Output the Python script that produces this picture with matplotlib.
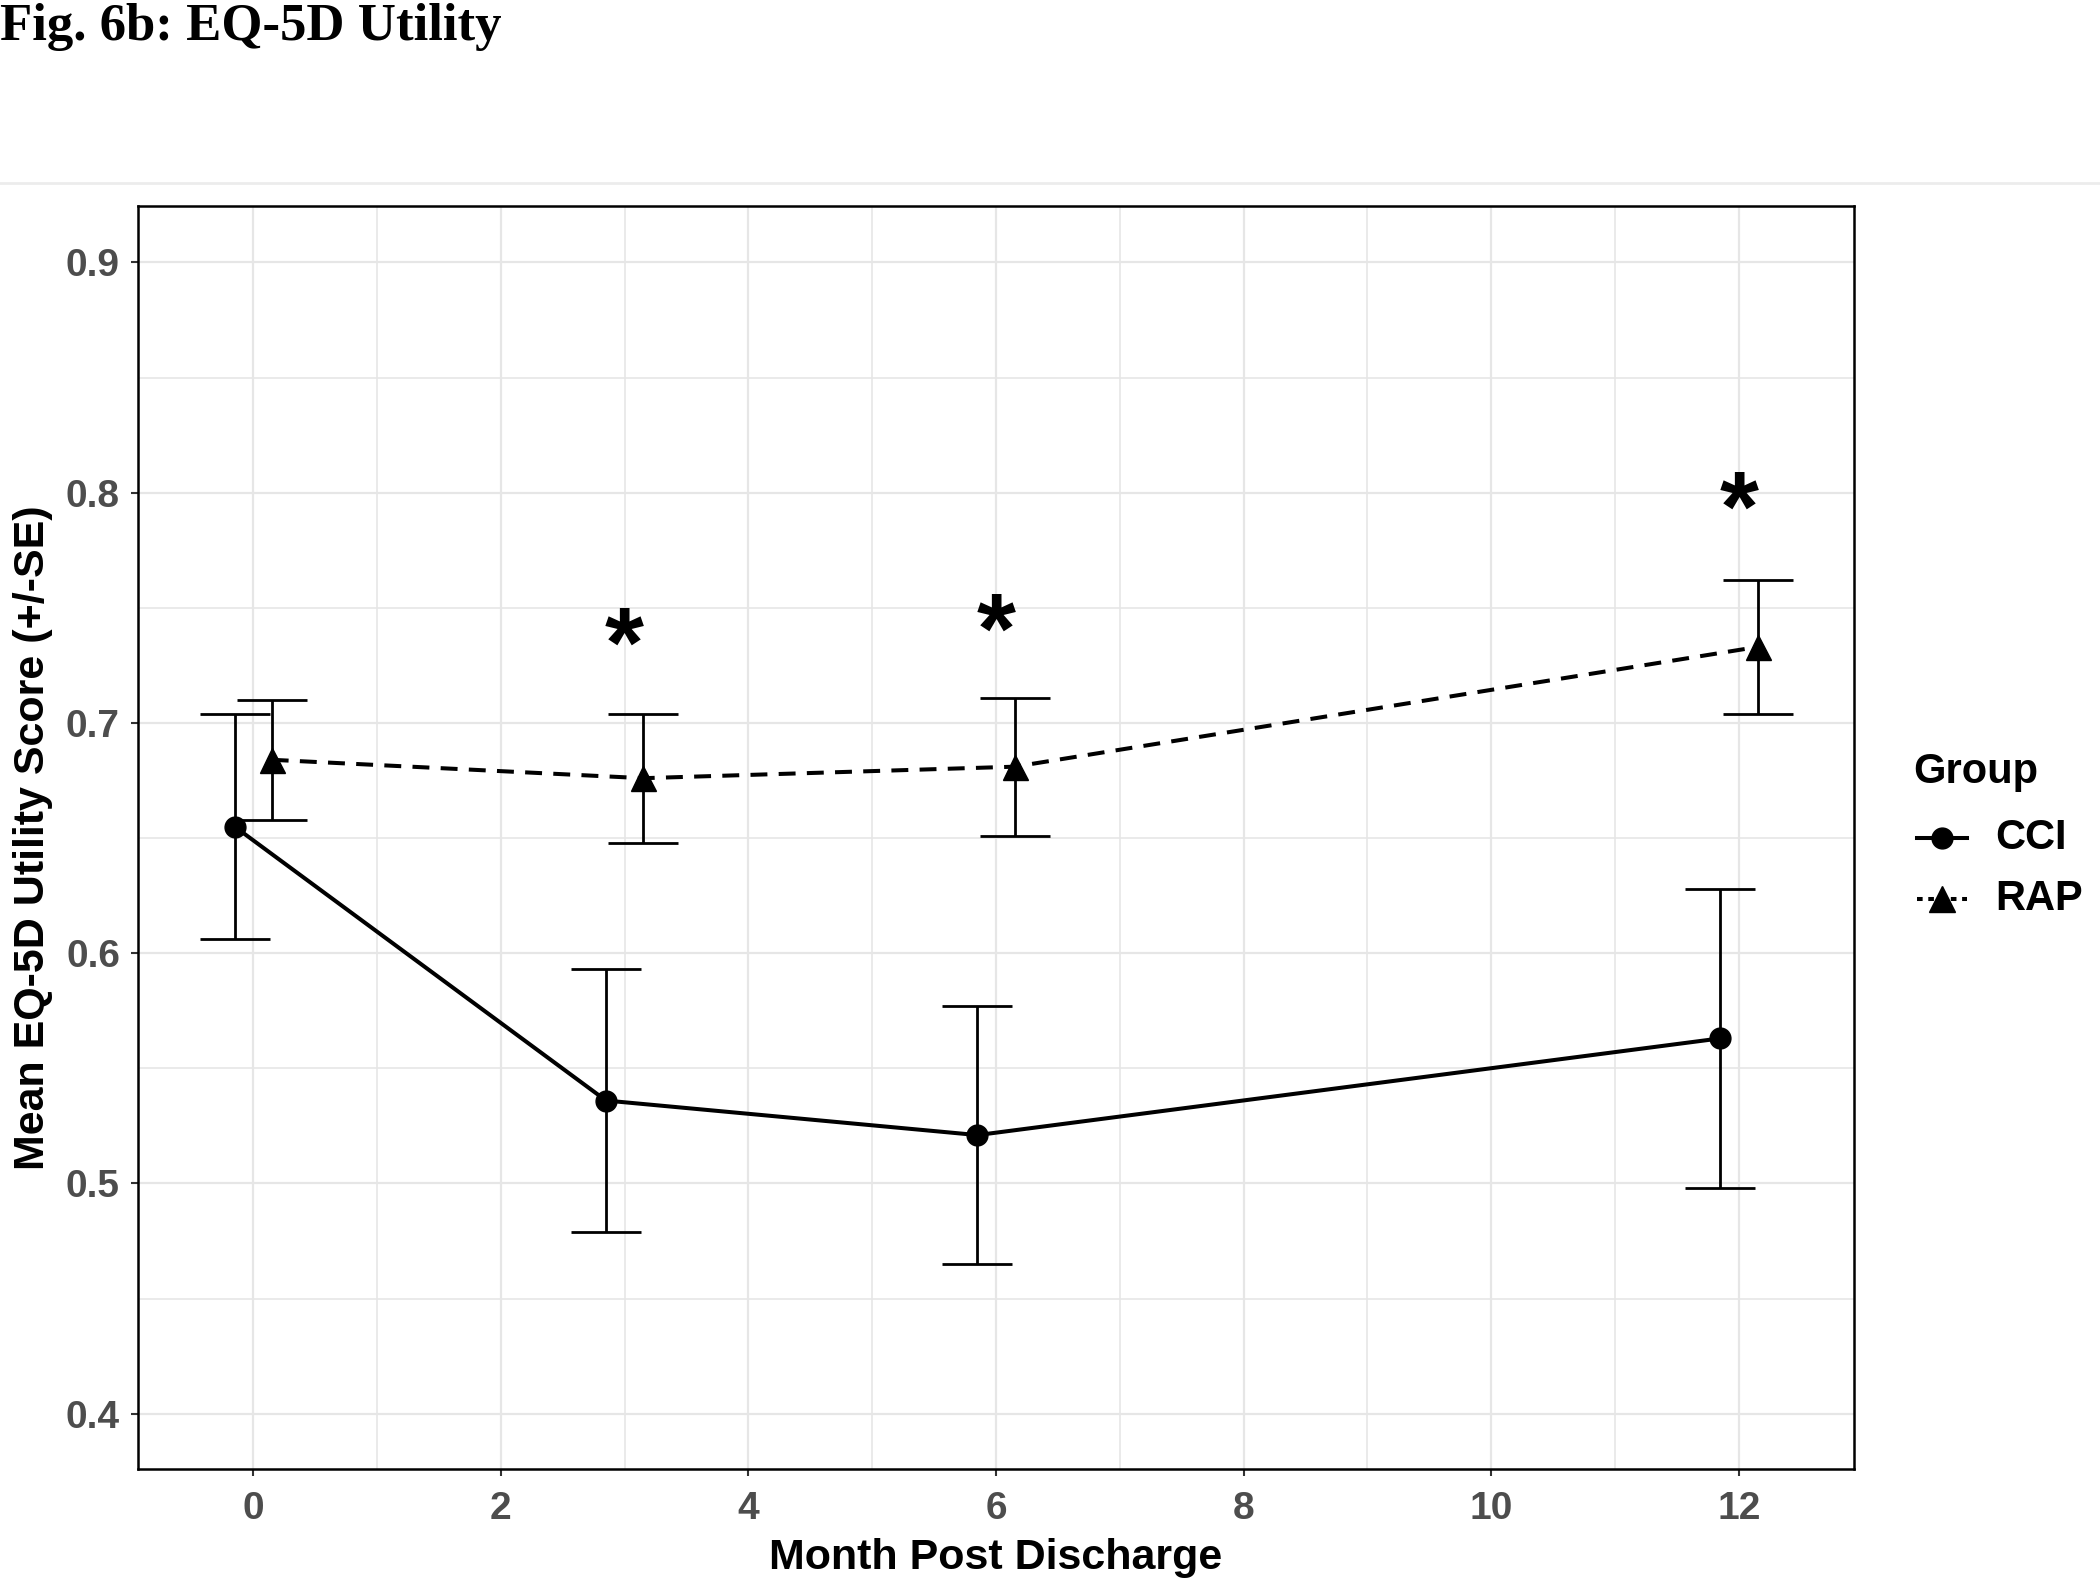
import matplotlib
matplotlib.use("Agg")
import matplotlib.pyplot as plt
from matplotlib.lines import Line2D

# months and group means (+/- SE)
months = [0, 3, 6, 12]
cci_mean = [0.655, 0.536, 0.521, 0.563]
cci_se = [0.049, 0.057, 0.056, 0.065]
rap_mean = [0.684, 0.676, 0.681, 0.733]
rap_se = [0.026, 0.028, 0.030, 0.029]
star_months = [3, 6, 12]
star_y = [0.741, 0.747, 0.800]
groups = ['CCI', 'RAP']
dodge = 0.15

plt.rcParams['font.family'] = ['Liberation Sans', 'DejaVu Sans']

W, H = 2100, 1586
fig = plt.figure(figsize=(W / 100, H / 100), dpi=100)
ax = fig.add_axes([0.0657, 0.0738, 0.8172, 0.7963])

cci_x = [m - dodge for m in months]
rap_x = [m + dodge for m in months]

ax.errorbar(cci_x, cci_mean, yerr=cci_se, fmt='none', ecolor='black',
            elinewidth=2.0, capsize=25, capthick=2.0, zorder=3)
ax.errorbar(rap_x, rap_mean, yerr=rap_se, fmt='none', ecolor='black',
            elinewidth=2.0, capsize=25, capthick=2.0, zorder=3)
ax.plot(cci_x, cci_mean, color='black', lw=2.9, marker='o', ms=15, zorder=4)
ax.plot(rap_x, rap_mean, color='black', lw=2.9, ls=(0, (4.2, 2.8)),
        marker='^', ms=18, zorder=4)

for m, y in zip(star_months, star_y):
    ax.annotate('*', (m, y), xytext=(0, -16), textcoords='offset points',
                ha='center', va='center', fontsize=72, fontweight='bold',
                color='black', zorder=5)

ax.set_xlim(-0.93, 12.93)
ax.set_ylim(0.376, 0.9245)
ax.set_xticks([0, 2, 4, 6, 8, 10, 12])
ax.set_xticks([1, 3, 5, 7, 9, 11], minor=True)
ax.set_yticks([0.4, 0.5, 0.6, 0.7, 0.8, 0.9])
ax.set_yticks([0.45, 0.55, 0.65, 0.75, 0.85], minor=True)
ax.set_yticklabels(['0.4', '0.5', '0.6', '0.7', '0.8', '0.9'])
ax.grid(True, which='major', color='#e6e6e6', lw=1.6)
ax.grid(True, which='minor', color='#e6e6e6', lw=1.2)
ax.set_axisbelow(True)
ax.tick_params(which='major', length=5, width=1.5, color='#333333',
               labelsize=28, labelcolor='#4d4d4d')
ax.tick_params(axis='x', which='major', pad=11)
ax.tick_params(axis='y', which='major', pad=8)
ax.tick_params(which='minor', length=0)
for lab in ax.get_xticklabels() + ax.get_yticklabels():
    lab.set_fontweight('bold')
for sp in ax.spines.values():
    sp.set_linewidth(1.8)
    sp.set_color('black')

ax.set_xlabel('Month Post Discharge', fontsize=31, fontweight='bold', labelpad=8)
ax.set_ylabel('Mean EQ-5D Utility Score (+/-SE)', fontsize=31,
              fontweight='bold', labelpad=9)

# legend, drawn by hand (ggplot-style keys)
fig.text(1913 / W, 1 - 772 / H, 'Group', fontsize=30, fontweight='bold',
         va='center', ha='left')
key_styles = [dict(ls='-', marker='o', ms=15),
              dict(ls=(0, (1.4, 1.4)), marker='^', ms=19)]
for name, st, ypx in zip(groups, key_styles, [838, 899]):
    yy = 1 - ypx / H
    fig.add_artist(Line2D([1917 / W, 1942 / W, 1967 / W], [yy] * 3,
                          color='black', lw=2.9, ls=st['ls'], marker=st['marker'],
                          ms=st['ms'], markevery=[1], transform=fig.transFigure))
    fig.text(1995 / W, yy, name, fontsize=30, fontweight='bold',
             va='center', ha='left')

# page header
fig.text(0.0, 1 - 40 / H, 'Fig. 6b: EQ-5D Utility', fontsize=38,
         fontweight='bold', family=['Liberation Serif', 'DejaVu Serif'],
         va='baseline', ha='left')
fig.add_artist(Line2D([0, 1], [1 - 183 / H] * 2, color='#ececec', lw=2,
                      transform=fig.transFigure))

fig.savefig('out.png', dpi=100, facecolor='white')
